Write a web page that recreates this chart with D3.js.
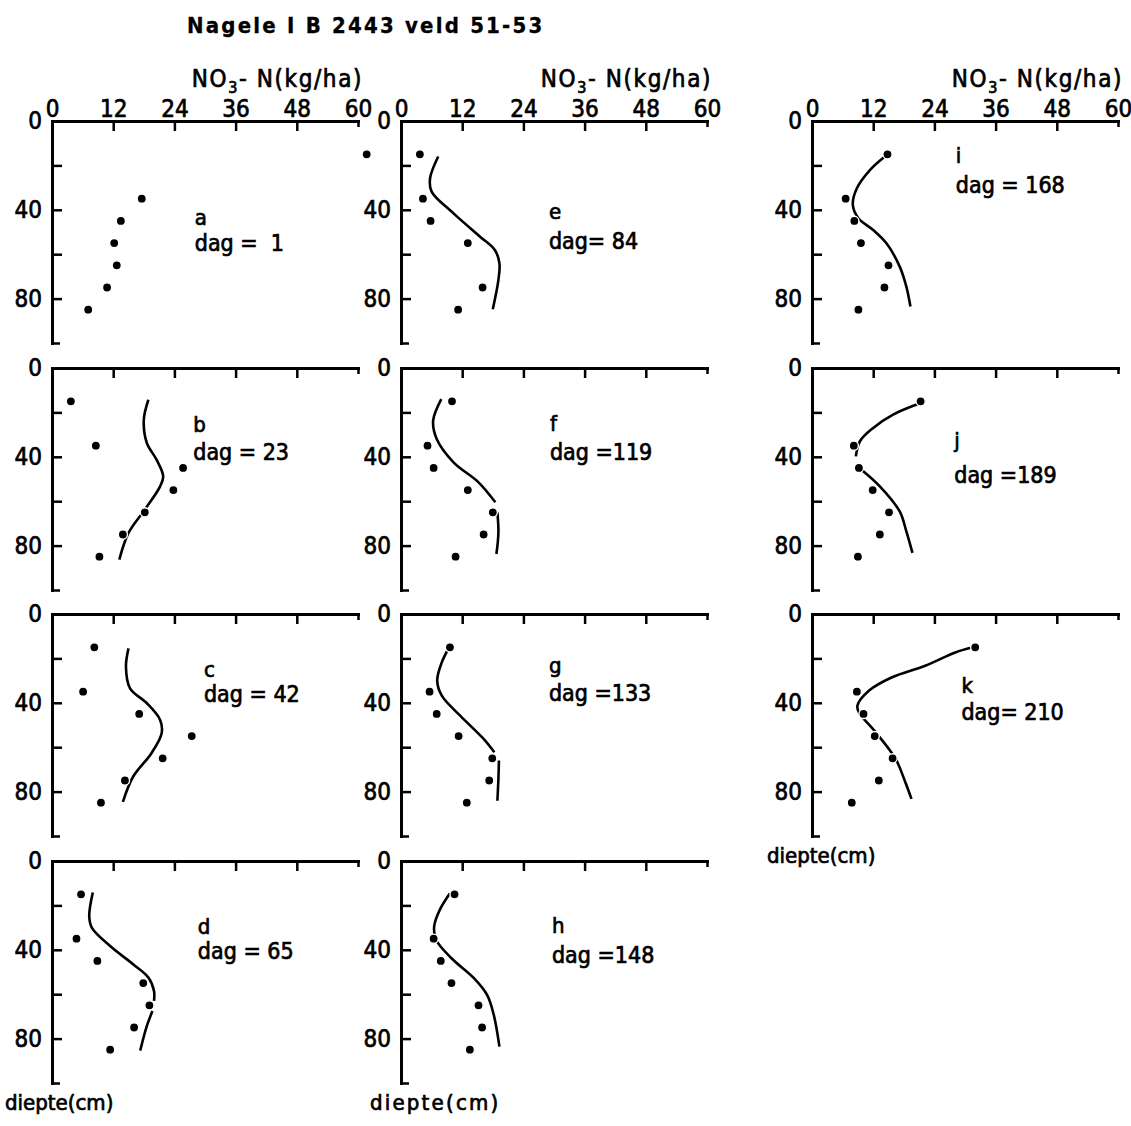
<!DOCTYPE html>
<html><head><meta charset="utf-8">
<script src="https://cdn.jsdelivr.net/npm/d3@7"></script>
<style>
body{margin:0;background:#fff;}
svg text{font-family:"DejaVu Sans Condensed","DejaVu Sans",sans-serif;font-stretch:condensed;fill:#000;stroke:#000;stroke-width:0.7px;}
</style></head><body>
<svg id="chart" width="1131" height="1126"></svg>
<script>
// ---------------- data ----------------
const chartTitle = "Nagele I B 2443 veld 51-53";
const xTicks = [0, 12, 24, 36, 48, 60];
const yTicks = [0, 20, 40, 60, 80, 100];
const yLabelTicks = [0, 40, 80];
const xTitleMain = "NO", xTitleSub = "3", xTitleRest = "- N(kg/ha)";
const yTitle = "diepte(cm)";

const panelIds = ["a","b","c","d","e","f","g","h","i","j","k"];
const dagLabels = ["dag =  1","dag = 23","dag = 42","dag = 65","dag= 84","dag =119","dag =133","dag =148","dag = 168","dag =189","dag= 210"];

// measured depths (cm)
const obsDepths = [15, 35, 45, 55, 65, 75, 85];
// measured NO3-N (kg/ha) per panel
const obsA = [61.7, 17.6, 13.5, 12.2, 12.7, 10.8, 7.1];
const obsB = [3.7, 8.6, 25.7, 23.8, 18.2, 13.9, 9.3];
const obsC = [8.3, 6.1, 17.1, 27.4, 21.7, 14.3, 9.6];
const obsD = [5.7, 4.8, 8.9, 17.9, 19.1, 16.1, 11.4];
const obsE = [3.7, 4.3, 5.8, 13.1, null, 16.0, 11.2];
const obsF = [10.0, 5.2, 6.4, 13.1, 18.0, 16.2, 10.7];
const obsG = [9.6, 5.6, 7.0, 11.3, 17.9, 17.3, 12.9];
const obsH = [10.5, 6.4, 7.8, 9.9, 15.2, 15.9, 13.5];
const obsI = [14.8, 6.6, 8.3, 9.6, 15.0, 14.2, 9.1];
const obsJ = [21.3, 8.2, 9.2, 11.9, 15.1, 13.3, 9.0];
const obsK = [32.0, 8.8, 10.1, 12.3, 15.8, 13.1, 7.8];

// simulated profiles: [depth, NO3-N]; null = break in the line
const simA = [];
const simB = [[14.3,18.9],[23.3,18.0],[33.8,18.6],[41.3,20.5],[48.8,21.8],[53.3,21.2],[63.8,18.2],[74.3,15.0],[86.3,13.2]];
const simC = [[15.5,15.0],[23.7,14.5],[33.5,15.3],[40.2,18.6],[47.7,21.2],[53.7,21.5],[62.7,19.5],[73.3,15.9],[84.6,13.9]];
const simD = [[14.2,8.0],[24.8,7.3],[30,7.8],[38.3,11.4],[46.5,15.9],[52.5,18.9],[58.6,20.0],[63,20.0],null,[67.6,19.7],[74.3,18.6],[85.4,17.3]];
const simE = [[16,7.3],[25.8,5.7],[31.8,6.0],[41.6,10.3],[52.1,15.5],[58.1,18.4],[64.1,19.3],[71.6,19.1],[84.8,18.0]];
const simF = [[14,7.9],[23.7,6.3],[32,7.0],[42.5,10.3],[51.5,15.2],[60.5,18.5],null,[65,18.9],[74,19.1],[83.8,18.7]];
const simG = [[14.3,9.6],[21.8,8.0],[30,7.1],[36.8,8.0],[45.8,11.6],[56.3,16.2],[62.3,18.3],null,[66,19.2],[74.3,19.1],[84.1,18.9]];
const simH = [[14.5,9.6],[22,7.6],[29.5,6.5],[35.6,6.9],[43.8,9.9],[52.8,14.3],[60.4,16.9],[69.4,18.2],[83.6,19.3]];
const simI = [[16,14.3],[22,11.4],[30.3,8.8],[37.8,8.0],[43.8,9.1],[49.1,12.0],[55.1,14.6],[65.6,17.2],[74.6,18.5],[83.6,19.3]];
const simJ = [[15.8,21.3],[21,15.9],[27,12.0],[33,9.4],[39.8,8.6],null,[45.8,9.7],[53.3,13.3],[64.6,17.2],[73.6,18.5],[83.3,19.7]];
const simK = [[15,31.6],[17.3,28.1],[23.3,22.2],[28.5,15.7],[34.5,11.2],[41.3,8.9],[44.3,9.2],[53.3,12.5],[65.3,16.4],[75.8,18.3],[83.3,19.5]];

// label anchors in data space: [NO3-N, depth of letter, depth of "dag" line]
const labelAnchors = [[28,46.8,58.6],[27.7,28.7,41.4],[29.8,28.3,39.6],[28.6,32.8,44.2],
  [29,44,57.7],[29.2,28.2,41.4],[29,26.8,39.2],[29.6,32.6,46],
  [28.2,19,32.6],[27.9,36,51.8],[29.3,35.6,47.8]];

const obsAll = [obsA,obsB,obsC,obsD,obsE,obsF,obsG,obsH,obsI,obsJ,obsK];
const simAll = [simA,simB,simC,simD,simE,simF,simG,simH,simI,simJ,simK];

// ---------------- layout ----------------
const colX = [52, 401, 812];
const rowY = [121, 368, 614, 861];
const W = 306, H = 222;
const panelCol = [0,0,0,0,1,1,1,1,2,2,2];
const panelRow = [0,1,2,3,0,1,2,3,0,1,2];
const lastRow = [3, 3, 2];
const yTitleX = [5, 370, 767];
const yTitleSpacing = [0, 2.2, 0];

const svg = d3.select("#chart");
svg.append("rect").attr("width",1131).attr("height",1126).attr("fill","#fff");

svg.append("text").attr("x",187).attr("y",33)
  .attr("font-size",22).attr("font-weight","bold")
  .style("font-stretch","normal").style("letter-spacing","2.2px").style("stroke-width","0.3px")
  .text(chartTitle);

const line = d3.line().defined(d => d !== null).curve(d3.curveCatmullRom.alpha(0.5));

panelIds.forEach((id, i) => {
  const c = panelCol[i], r = panelRow[i];
  const x0 = colX[c], y0 = rowY[r];
  const x = d3.scaleLinear().domain([0,60]).range([x0, x0 + W]);
  const y = d3.scaleLinear().domain([0,100]).range([y0, y0 + H]);
  const g = svg.append("g");

  // x axis (top)
  const ax = g.append("g").attr("transform",`translate(0,${y0})`)
    .call(d3.axisTop(x).tickValues(xTicks).tickSizeInner(-10).tickSizeOuter(0).tickPadding(4)
      .tickFormat(r === 0 ? d3.format("d") : () => ""));
  // y axis (left)
  const ay = g.append("g").attr("transform",`translate(${x0},0)`)
    .call(d3.axisLeft(y).tickValues(yTicks).tickSizeInner(-10).tickSizeOuter(0).tickPadding(10)
      .tickFormat(d => yLabelTicks.includes(d) ? d : ""));
  [ax, ay].forEach(a => {
    a.attr("font-family", null).attr("font-size", 24);
    a.select(".domain").attr("stroke","#000").attr("stroke-width",3).attr("stroke-linecap","square");
    a.selectAll(".tick line").attr("stroke","#000").attr("stroke-width",2.5);
    a.selectAll(".tick text").attr("fill","#000");
  });
  ax.selectAll(".tick").filter(d => d === 60).select("line").attr("y2", 6);
  ay.selectAll(".tick").filter(d => d === 100).select("line").attr("x2", 8);

  // x axis title on the top row
  if (r === 0) {
    const t = g.append("text").attr("x", x0 + W + 5).attr("y", y0 - 34)
      .attr("text-anchor","end").attr("font-size",24).style("letter-spacing","1.6px");
    t.append("tspan").text(xTitleMain);
    t.append("tspan").attr("font-size",16).attr("dy",6).text(xTitleSub);
    t.append("tspan").attr("dy",-6).text(xTitleRest);
  }
  // y axis title under the last panel of a column
  if (r === lastRow[c]) {
    g.append("text").attr("x", yTitleX[c]).attr("y", y0 + H + 27)
      .attr("font-size",22).style("letter-spacing", yTitleSpacing[c] + "px").text(yTitle);
  }

  // simulated curve
  const sim = simAll[i];
  if (sim.length) {
    g.append("path")
      .attr("d", line.x(d => x(d[1])).y(d => y(d[0]))(sim))
      .attr("fill","none").attr("stroke","#000").attr("stroke-width",2.6);
  }
  // measured points
  const pts = obsAll[i].map((v, k) => [obsDepths[k], v]).filter(p => p[1] !== null);
  g.selectAll("circle.obs").data(pts).enter().append("circle")
    .attr("class","obs")
    .attr("cx", d => x(d[1])).attr("cy", d => y(d[0])).attr("r", 4.6)
    .attr("fill","#000").attr("stroke","#fff").attr("stroke-width",1.4);

  // panel labels
  const la = labelAnchors[i];
  g.append("text").attr("x", x(la[0])).attr("y", y(la[1])).attr("font-size",22).text(id);
  g.append("text").attr("x", x(la[0])).attr("y", y(la[2])).attr("font-size",23)
    .style("white-space","pre").text(dagLabels[i]);
});
</script>
</body></html>
